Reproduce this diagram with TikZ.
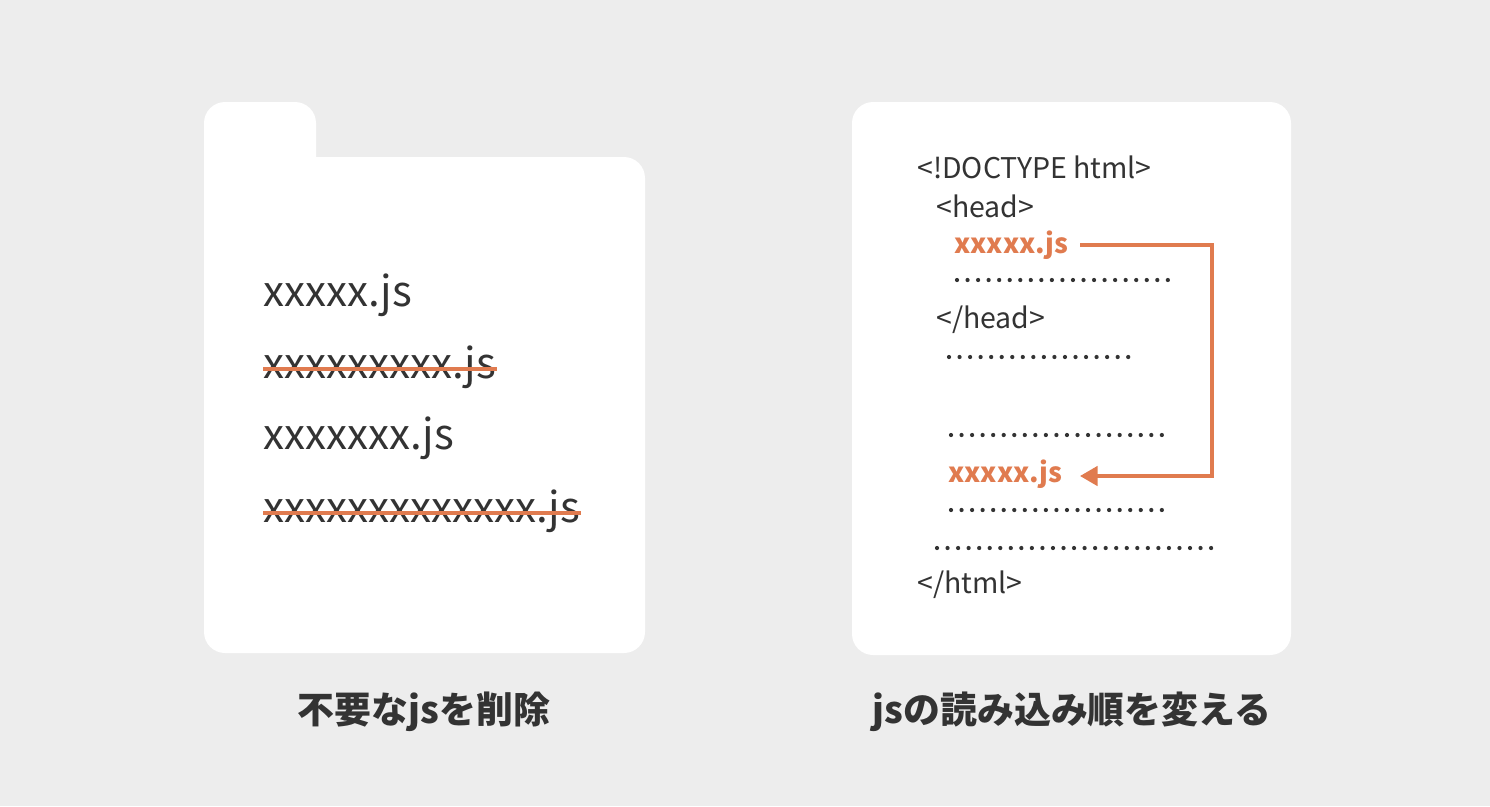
\documentclass[tikz,border=0pt]{standalone}
\usepackage{fontspec}
\setmainfont{Noto Sans CJK JP}
\usetikzlibrary{arrows.meta}
\definecolor{bgcol}{HTML}{EDEDED}
\definecolor{inkcol}{HTML}{333333}
\definecolor{accent}{HTML}{E07B4F}
\tikzset{
  card/.style={fill=white, draw=none, rounded corners=12pt},
  filename/.style={anchor=west, inner sep=0pt, text=inkcol, font=\fontsize{24}{28}\selectfont},
  codeline/.style={anchor=west, inner sep=0pt, text=inkcol, font=\fontsize{16.2}{18}\selectfont},
  hotline/.style={codeline, text=accent, font=\fontsize{15.5}{18}\selectfont\bfseries},
  caption/.style={inner sep=0pt, text=inkcol, font=\fontsize{21}{24}\selectfont\bfseries},
  strike/.style={draw=accent, line width=2.2pt},
  dotrow/.style={draw=inkcol, line width=2.4pt, line cap=round, dash pattern=on 0pt off 6pt},
  moveto/.style={draw=accent, line width=2pt, -{Triangle[length=10pt,width=11pt]}}
}
\begin{document}
\begin{tikzpicture}[x=0.02cm, y=-0.02cm]
\fill[bgcol] (0,0) rectangle (1490,806);
\useasboundingbox (0,0) rectangle (1490,806);

% folder with old scripts
\fill[card] (204,102) rectangle (316,200);
\fill[card] (204,157) rectangle (645,653);
\node[filename] (f1) at (263,295) {xxxxx.js};
\node[filename] (f2) at (263,367) {xxxxxxxxx.js};
\node[filename] (f3) at (263,438) {xxxxxxx.js};
\node[filename] (f4) at (263,511) {xxxxxxxxxxxxx.js};
\draw[strike] ([yshift=-1pt]f2.west) -- ([yshift=-1pt]f2.east);
\draw[strike] ([yshift=-1pt]f4.west) -- ([yshift=-1pt]f4.east);
\node[caption] (capl) at (424,712) {不要なjsを削除};

% html source
\fill[card] (852,102) rectangle (1291,655);
\node[codeline] (doc) at (917,167) {<!DOCTYPE html>};
\node[codeline] (head) at (936,206) {<head>};
\node[hotline] (old) at (954,245) {xxxxx.js};
\node[codeline] (endhead) at (936,320) {</head>};
\node[hotline] (new) at (948,474) {xxxxx.js};
\node[codeline] (endhtml) at (917,585) {</html>};
\draw[dotrow] (957,280) -- (1172,280);
\draw[dotrow] (949,357) -- (1135,357);
\draw[dotrow] (951,435) -- (1166,435);
\draw[dotrow] (951,510) -- (1166,510);
\draw[dotrow] (937,548) -- (1216,548);
\coordinate (turn) at (1212,245);
\draw[moveto] (1080,245) -- (turn) |- (1080,476);
\node[caption] (capr) at (1072,712) {jsの読み込み順を変える};
\end{tikzpicture}
\end{document}
